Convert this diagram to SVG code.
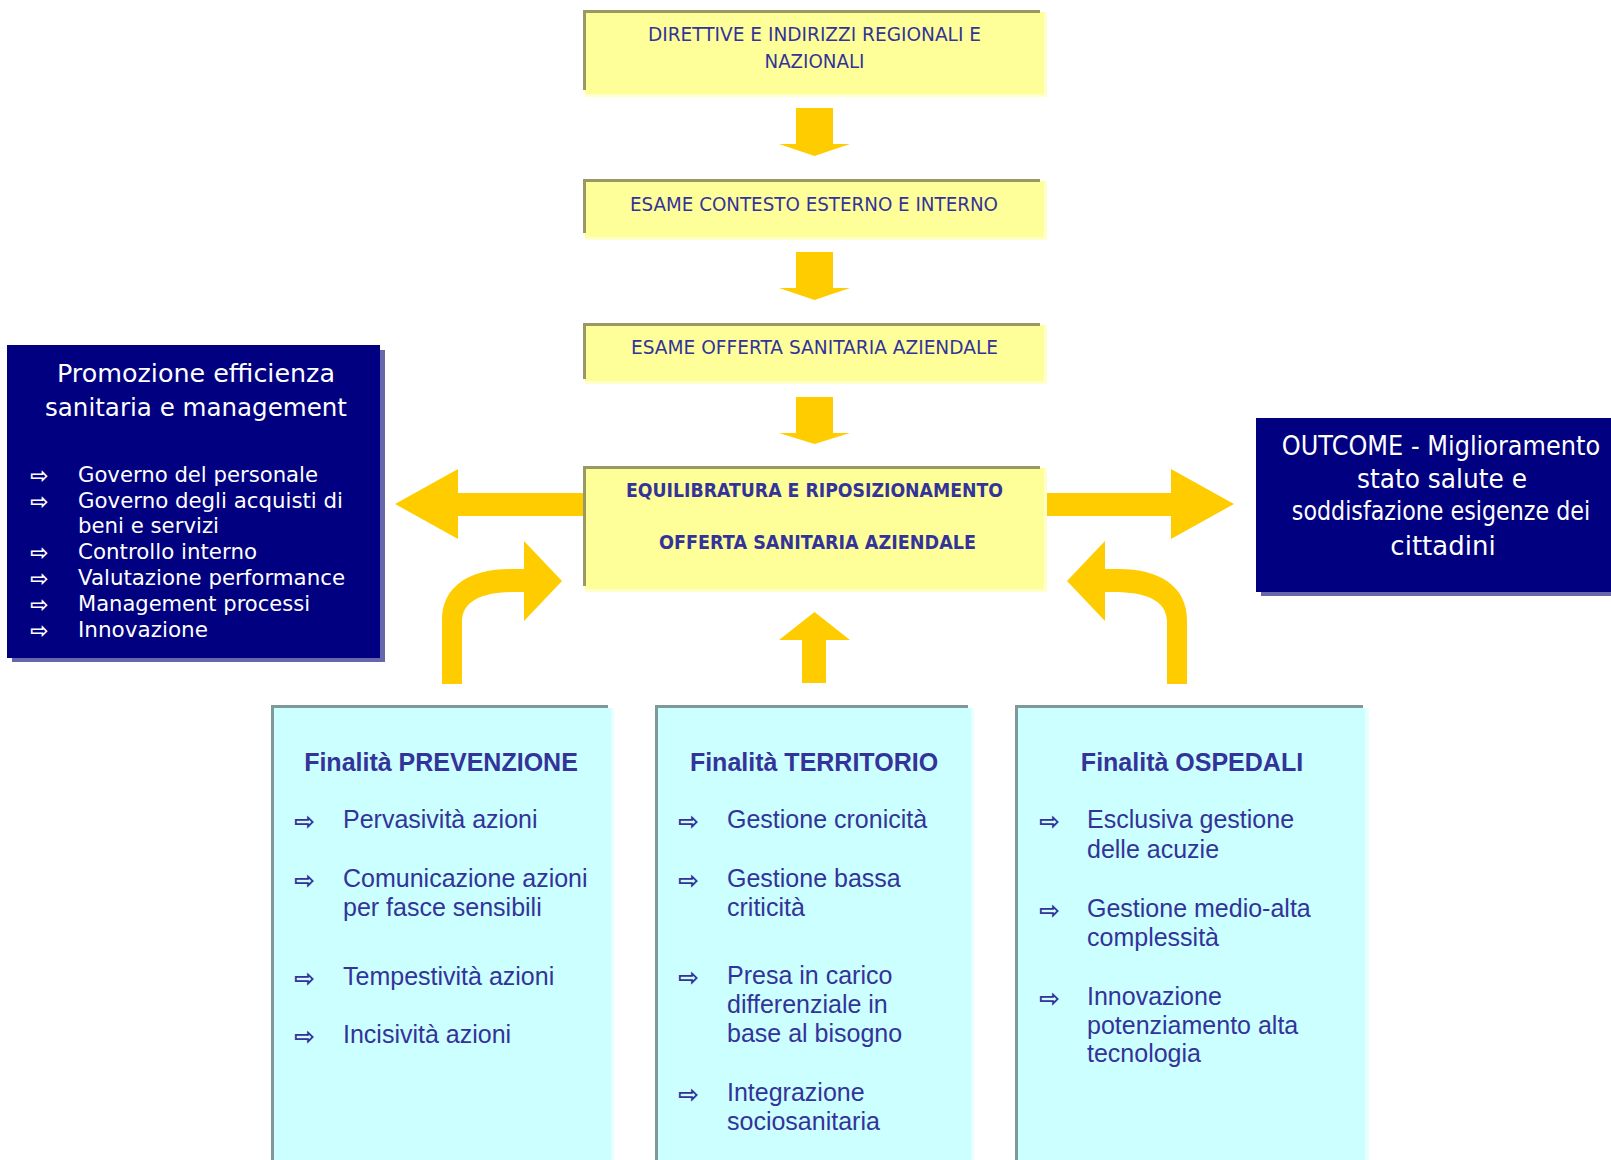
<svg xmlns="http://www.w3.org/2000/svg" width="1611" height="1160" viewBox="0 0 1611 1160">
  <style>
    .yglow { fill: #FFFFCC; }
    .yfill { fill: #FFFF99; }
    .yedge { fill: #999966; }
    .ytxt { font-family: "DejaVu Sans", Verdana, sans-serif; font-size: 20px; fill: #333399; text-anchor: middle; }
    .ybold { font-weight: bold; }
    .navy { fill: #000080; }
    .nshadow { fill: #6666AA; }
    .wtxt { font-family: "DejaVu Sans", Verdana, sans-serif; fill: #FFFFFF; }
    .cglow { fill: #E6FFFF; }
    .cfill { fill: #CCFFFF; }
    .cedge { fill: #7F9999; }
    .ctxt { font-family: "Liberation Sans", Arial, sans-serif; font-size: 25px; fill: #333399; }
    .ctitle { font-weight: bold; text-anchor: middle; }
    .bul { font-family: "DejaVu Sans", sans-serif; font-weight: bold; }
    .arrow { fill: #FFCC00; }
  </style>

  <rect width="1611" height="1160" fill="#FFFFFF"/>

  <!-- connectors -->
  <g id="connectors">
    <!-- vertical flow arrows -->
    <polygon class="arrow" points="796,108 833,108 833,144 850,144 814.5,156 779,144 796,144"/>
    <polygon class="arrow" points="796,252 833,252 833,288 850,288 814.5,300 779,288 796,288"/>
    <polygon class="arrow" points="796,397 833,397 833,433 850,433 814.5,444 779,433 796,433"/>
    <!-- sideways outputs -->
    <polygon class="arrow" points="584,493 458,493 458,469 395,504 458,539 458,516 584,516"/>
    <polygon class="arrow" points="1045,493 1171,493 1171,469 1234,504 1171,539 1171,516 1045,516"/>
    <!-- inputs from the three areas -->
    <polygon class="arrow" points="802,683 826,683 826,640 850,640 814.5,612 779,640 802,640"/>
    <path class="arrow" d="M442,684 V620 C442,586 470,569 510,569 H524 V541 L562,581 L524,621 V592 H515 C484,592 462,600 462,622 V684 Z"/>
    <path class="arrow" transform="translate(1629,0) scale(-1,1)" d="M442,684 V620 C442,586 470,569 510,569 H524 V541 L562,581 L524,621 V592 H515 C484,592 462,600 462,622 V684 Z"/>
  </g>

  <!-- top yellow flow boxes -->
  <g id="direttive">
    <rect class="yglow" x="585" y="12" width="462" height="85"/>
    <rect class="yfill" x="585" y="12" width="459" height="82"/>
    <rect class="yedge" x="583" y="10" width="457" height="3"/>
    <rect class="yedge" x="583" y="10" width="3" height="80"/>
    <text class="ytxt" x="814.5" y="41" textLength="333" lengthAdjust="spacingAndGlyphs">DIRETTIVE E INDIRIZZI REGIONALI E</text>
    <text class="ytxt" x="814.5" y="68" textLength="100" lengthAdjust="spacingAndGlyphs">NAZIONALI</text>
  </g>

  <g id="contesto">
    <rect class="yglow" x="585" y="181" width="462" height="59"/>
    <rect class="yfill" x="585" y="181" width="459" height="56"/>
    <rect class="yedge" x="583" y="179" width="457" height="3"/>
    <rect class="yedge" x="583" y="179" width="3" height="54"/>
    <text class="ytxt" x="814" y="211" textLength="368" lengthAdjust="spacingAndGlyphs">ESAME CONTESTO ESTERNO E INTERNO</text>
  </g>

  <g id="offerta">
    <rect class="yglow" x="585" y="325" width="462" height="59"/>
    <rect class="yfill" x="585" y="325" width="459" height="56"/>
    <rect class="yedge" x="583" y="323" width="457" height="3"/>
    <rect class="yedge" x="583" y="323" width="3" height="56"/>
    <text class="ytxt" x="814.5" y="354" textLength="367" lengthAdjust="spacingAndGlyphs">ESAME OFFERTA SANITARIA AZIENDALE</text>
  </g>

  <g id="equilibratura">
    <rect class="yglow" x="585" y="468" width="462" height="124"/>
    <rect class="yfill" x="585" y="468" width="459" height="121"/>
    <rect class="yedge" x="583" y="466" width="457" height="3"/>
    <rect class="yedge" x="583" y="466" width="3" height="120"/>
    <text class="ytxt ybold" x="814.5" y="497" textLength="377" lengthAdjust="spacingAndGlyphs">EQUILIBRATURA E RIPOSIZIONAMENTO</text>
    <text class="ytxt ybold" x="817.5" y="549" textLength="317" lengthAdjust="spacingAndGlyphs">OFFERTA SANITARIA AZIENDALE</text>
  </g>

  <!-- management box (left) -->
  <g id="management">
    <rect class="nshadow" x="12" y="350" width="373" height="312"/>
    <rect class="navy" x="7" y="345" width="373" height="313"/>
    <text class="wtxt" x="196" y="382" font-size="25" text-anchor="middle" textLength="278" lengthAdjust="spacingAndGlyphs">Promozione efficienza</text>
    <text class="wtxt" x="196" y="416" font-size="25" text-anchor="middle" textLength="302" lengthAdjust="spacingAndGlyphs">sanitaria e management</text>
    <g class="wtxt bul" font-size="22">
      <text x="30" y="483">⇨</text>
      <text x="30" y="509">⇨</text>
      <text x="30" y="560">⇨</text>
      <text x="30" y="586">⇨</text>
      <text x="30" y="612">⇨</text>
      <text x="30" y="638">⇨</text>
    </g>
    <g class="wtxt" font-size="21">
      <text x="78" y="482" textLength="240" lengthAdjust="spacingAndGlyphs">Governo del personale</text>
      <text x="78" y="508" textLength="265" lengthAdjust="spacingAndGlyphs">Governo degli acquisti di</text>
      <text x="78" y="533" textLength="141" lengthAdjust="spacingAndGlyphs">beni e servizi</text>
      <text x="78" y="559" textLength="179" lengthAdjust="spacingAndGlyphs">Controllo interno</text>
      <text x="78" y="585" textLength="267" lengthAdjust="spacingAndGlyphs">Valutazione performance</text>
      <text x="78" y="611" textLength="232" lengthAdjust="spacingAndGlyphs">Management processi</text>
      <text x="78" y="637" textLength="130" lengthAdjust="spacingAndGlyphs">Innovazione</text>
    </g>
  </g>

  <!-- outcome box (right); lines are narrowed horizontally to fit the box -->
  <g id="outcome">
    <rect class="nshadow" x="1261" y="423" width="350" height="173"/>
    <rect class="navy" x="1256" y="418" width="355" height="174"/>
    <g class="wtxt" font-size="26" text-anchor="middle">
      <text transform="translate(1441,455) scale(0.925,1)">OUTCOME - Miglioramento</text>
      <text transform="translate(1442,488) scale(0.957,1)">stato salute e</text>
      <text transform="translate(1441,520) scale(0.855,1)">soddisfazione esigenze dei</text>
      <text transform="translate(1443,555)">cittadini</text>
    </g>
  </g>

  <!-- bottom cyan boxes -->
  <g id="prevenzione">
    <rect class="cglow" x="274" y="708" width="340" height="452"/>
    <rect class="cfill" x="274" y="708" width="337" height="452"/>
    <rect class="cedge" x="271" y="705" width="337" height="3"/>
    <rect class="cedge" x="271" y="705" width="3" height="455"/>
    <text class="ctxt ctitle" x="441" y="771">Finalità PREVENZIONE</text>
    <g class="ctxt bul" font-size="25">
      <text x="294" y="830">⇨</text>
      <text x="294" y="889">⇨</text>
      <text x="294" y="987">⇨</text>
      <text x="294" y="1045">⇨</text>
    </g>
    <g class="ctxt">
      <text x="343" y="828">Pervasività azioni</text>
      <text x="343" y="887">Comunicazione azioni</text>
      <text x="343" y="916">per fasce sensibili</text>
      <text x="343" y="985">Tempestività azioni</text>
      <text x="343" y="1043">Incisività azioni</text>
    </g>
  </g>

  <g id="territorio">
    <rect class="cglow" x="658" y="708" width="316" height="452"/>
    <rect class="cfill" x="658" y="708" width="313" height="452"/>
    <rect class="cedge" x="655" y="705" width="313" height="3"/>
    <rect class="cedge" x="655" y="705" width="3" height="455"/>
    <text class="ctxt ctitle" x="814" y="771">Finalità TERRITORIO</text>
    <g class="ctxt bul" font-size="25">
      <text x="678" y="830">⇨</text>
      <text x="678" y="889">⇨</text>
      <text x="678" y="986">⇨</text>
      <text x="678" y="1103">⇨</text>
    </g>
    <g class="ctxt">
      <text x="727" y="828">Gestione cronicità</text>
      <text x="727" y="887">Gestione bassa</text>
      <text x="727" y="916">criticità</text>
      <text x="727" y="984">Presa in carico</text>
      <text x="727" y="1013">differenziale in</text>
      <text x="727" y="1042">base al bisogno</text>
      <text x="727" y="1101">Integrazione</text>
      <text x="727" y="1130">sociosanitaria</text>
    </g>
  </g>

  <g id="ospedali">
    <rect class="cglow" x="1018" y="708" width="351" height="452"/>
    <rect class="cfill" x="1018" y="708" width="347" height="452"/>
    <rect class="cedge" x="1015" y="705" width="348" height="3"/>
    <rect class="cedge" x="1015" y="705" width="3" height="455"/>
    <text class="ctxt ctitle" x="1192" y="771">Finalità OSPEDALI</text>
    <g class="ctxt bul" font-size="25">
      <text x="1039" y="830">⇨</text>
      <text x="1039" y="919">⇨</text>
      <text x="1039" y="1007">⇨</text>
    </g>
    <g class="ctxt">
      <text x="1087" y="828">Esclusiva gestione</text>
      <text x="1087" y="858">delle acuzie</text>
      <text x="1087" y="917">Gestione medio-alta</text>
      <text x="1087" y="946">complessità</text>
      <text x="1087" y="1005">Innovazione</text>
      <text x="1087" y="1034">potenziamento alta</text>
      <text x="1087" y="1062">tecnologia</text>
    </g>
  </g>
</svg>
